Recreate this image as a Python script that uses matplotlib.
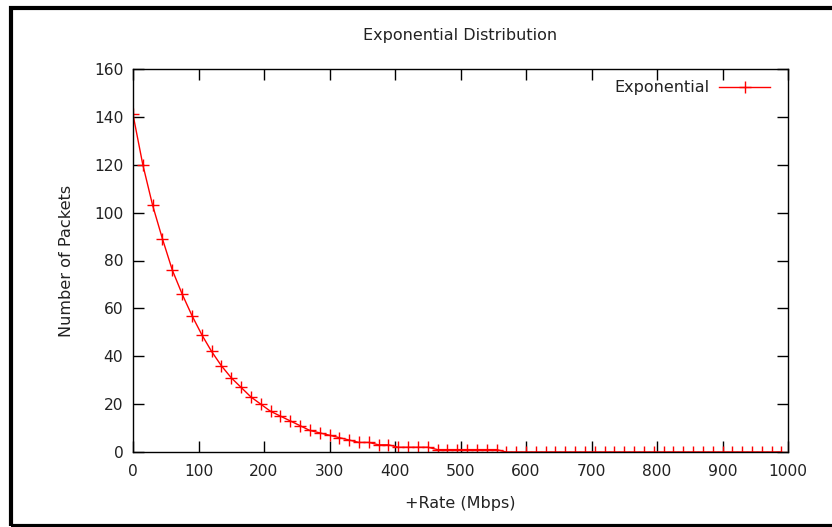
import numpy as np
import matplotlib.pyplot as plt
from matplotlib.patches import Rectangle

# data (rate step of 15 Mbps)
rate = np.arange(0, 991, 15)
packets_head = [141, 120, 103, 89, 76, 66, 57, 49, 42, 36, 31, 27, 23, 20, 17,
                15, 13, 11, 9, 8, 7, 6, 5, 4, 4, 3, 3, 2, 2, 2, 2,
                1, 1, 1, 1, 1, 1, 1]
packets = packets_head + [0] * (len(rate) - len(packets_head))

x_ticks = np.arange(0, 1001, 100)
y_ticks = np.arange(0, 161, 20)

plt.rcParams['font.family'] = 'DejaVu Sans'
plt.rcParams['text.color'] = '#222222'
plt.rcParams['axes.labelcolor'] = '#222222'

fig = plt.figure(figsize=(8.32, 5.27), dpi=100)
ax = fig.add_axes([133 / 832, 1 - 452 / 527, (788 - 133) / 832, (452 - 69) / 527])

# black frame around the picture (left, top, bottom edges)
fig.patches.append(Rectangle((10.5 / 832, 1 - 525.5 / 527), 1.2, (525.5 - 7.5) / 527,
                             transform=fig.transFigure, fill=False,
                             edgecolor='black', linewidth=3, clip_on=False))

ax.plot(rate, packets, color='#ff0000', linewidth=1, marker='+',
        markersize=8, markeredgewidth=1, label='Exponential')

ax.set_xlim(0, 1000)
ax.set_ylim(0, 160)
ax.set_xticks(x_ticks)
ax.set_yticks(y_ticks)
ax.tick_params(direction='in', length=8, width=1, top=True, right=True,
               labelsize=11.2, labelcolor='#222222', color='black')
ax.tick_params(axis='x', pad=9)
ax.tick_params(axis='y', pad=7)
for s in ax.spines.values():
    s.set_linewidth(1)

ax.set_title('Exponential Distribution', fontsize=11.5, pad=21)
ax.set_xlabel('+Rate (Mbps)', fontsize=11.5, labelpad=12)
ax.set_ylabel('Number of Packets', fontsize=11.6, labelpad=14)

leg = ax.legend(loc='upper right', frameon=False, markerfirst=False,
                fontsize=11.5, handlelength=3.2, handletextpad=0.6,
                borderaxespad=0.3, bbox_to_anchor=(0.99, 1.0))

fig.savefig('out.png', dpi=100)
